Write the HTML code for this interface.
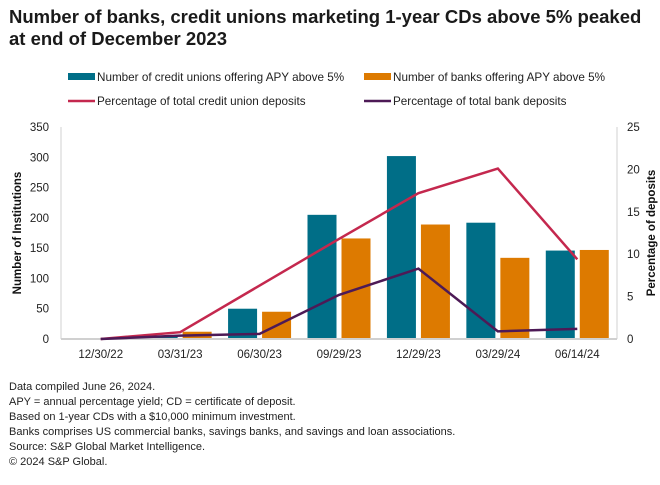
<!DOCTYPE html>
<html><head><meta charset="utf-8"><style>
body{margin:0;background:#fff;font-family:"Liberation Sans",sans-serif;}
#wrap{position:relative;width:660px;height:485px;overflow:hidden;}
.t{position:absolute;left:9px;font-weight:bold;font-size:18.5px;color:#1a1a1a;}
.foot{position:absolute;left:9px;font-size:11px;color:#222;line-height:15px;top:380px;}
</style></head><body>
<div id="wrap">
<div class="t" style="top:6px;line-height:22px">Number of banks, credit unions marketing 1-year CDs above 5% peaked<br>at end of December 2023</div>
<svg id="svg" width="660" height="485" style="position:absolute;left:0;top:0"></svg>
<div class="foot">Data compiled June 26, 2024.<br>APY = annual percentage yield; CD = certificate of deposit.<br>Based on 1-year CDs with a $10,000 minimum investment.<br>Banks comprises US commercial banks, savings banks, and savings and loan associations.<br>Source: S&amp;P Global Market Intelligence.<br>© 2024 S&amp;P Global.</div>
</div>
<script>
const categories=["12/30/22","03/31/23","06/30/23","09/29/23","12/29/23","03/29/24","06/14/24"];
const creditUnions=[0,5,50,205,302,192,146];
const banks=[0,12,45,166,189,134,147];
const cuPct=[0,0.8,6.3,11.8,17.2,20.1,9.4];
const bankPct=[0,0.4,0.6,5.2,8.3,0.9,1.2];
const leftTicks=[0,50,100,150,200,250,300,350];
const rightTicks=[0,5,10,15,20,25];
const svg=document.getElementById('svg');
const NS='http://www.w3.org/2000/svg';
const X0=61,X1=617,Y0=339,Y1=127;
const band=(X1-X0)/categories.length;
const xc=i=>X0+band*(i+0.5);
const yL=v=>Y0-(v/350)*(Y0-Y1);
const yR=v=>Y0-(v/25)*(Y0-Y1);
function mk(tag,attrs,text){const e=document.createElementNS(NS,tag);for(const k in attrs)e.setAttribute(k,attrs[k]);if(text!==undefined)e.textContent=text;svg.appendChild(e);return e;}
let e=mk('line',{x1:X0,y1:Y1,x2:X0,y2:Y0,stroke:'#d0d0d0','stroke-width':1});

e=mk('line',{x1:X1,y1:Y1,x2:X1,y2:Y0,stroke:'#d0d0d0','stroke-width':1});

leftTicks.forEach(v=>{const t=mk('text',{x:49,y:yL(v)+4,'text-anchor':'end','font-size':11.5,fill:'#222'},v);
});
rightTicks.forEach(v=>{const t=mk('text',{x:627,y:yR(v)+4,'text-anchor':'start','font-size':11.5,fill:'#222'},v);
});
e=mk('text',{x:0,y:0,transform:'translate(21,233) rotate(-90)','text-anchor':'middle','font-size':11.5,'font-weight':'bold',fill:'#111'},'Number of Institutions');

e=mk('text',{x:0,y:0,transform:'translate(655,233) rotate(-90)','text-anchor':'middle','font-size':11.5,'font-weight':'bold',fill:'#111'},'Percentage of deposits');

const bw=29,gap=5;
categories.forEach((c,i)=>{
 const cx=xc(i);
 const b1=mk('rect',{x:cx-gap/2-bw,y:yL(creditUnions[i]),width:bw,height:Y0-yL(creditUnions[i]),fill:'#006e87'});
 
 const b2=mk('rect',{x:cx+gap/2,y:yL(banks[i]),width:bw,height:Y0-yL(banks[i]),fill:'#dd7a00'});
 
 const t=mk('text',{x:cx,y:358,'text-anchor':'middle','font-size':11.5,fill:'#222'},c);
 
});
e=mk('line',{x1:X0,y1:Y0,x2:X1,y2:Y0,stroke:'#d0d0d0','stroke-width':2});

const l1=mk('polyline',{points:cuPct.map((v,i)=>xc(i)+','+yR(v)).join(' '),fill:'none',stroke:'#c4284e','stroke-width':2.5});

const l2=mk('polyline',{points:bankPct.map((v,i)=>xc(i)+','+yR(v)).join(' '),fill:'none',stroke:'#4d1a56','stroke-width':2.5});

function leg(x,y,kind,color,label,name){
 const s=kind==='bar'?mk('rect',{x:x,y:y-4,width:27,height:7,fill:color}):mk('line',{x1:x,y1:y,x2:x+27,y2:y,stroke:color,'stroke-width':2.5});
 
 const t=mk('text',{x:x+29,y:y+4,'font-size':11.7,fill:'#222'},label);
 
}
leg(68,77,'bar','#006e87','Number of credit unions offering APY above 5%','legend-credit-unions');
leg(364,77,'bar','#dd7a00','Number of banks offering APY above 5%','legend-banks');
leg(68,101,'line','#c4284e','Percentage of total credit union deposits','legend-cu-deposits');
leg(364,101,'line','#4d1a56','Percentage of total bank deposits','legend-bank-deposits');
</script>
</body></html>
